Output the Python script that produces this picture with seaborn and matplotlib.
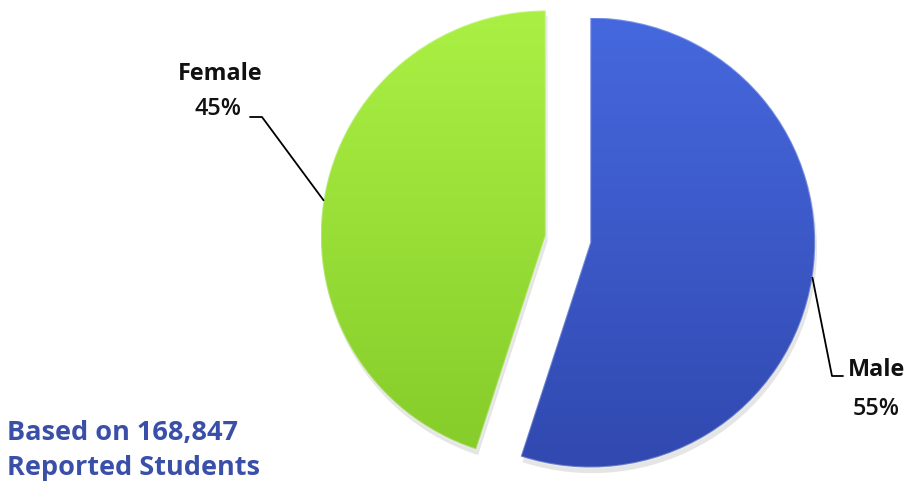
import numpy as np
import matplotlib
matplotlib.use("Agg")
import matplotlib.pyplot as plt
from matplotlib.colors import LinearSegmentedColormap
import seaborn as sns

# Data
categories = ["Male", "Female"]
shares = [55, 45]
pct_labels = ["55%", "45%"]
note_lines = ["Based on 168,847", "Reported Students"]

sns.set_theme(style="white")
plt.rcParams['font.family'] = ['Open Sans', 'DejaVu Sans']

W, H = 911, 489
fig = plt.figure(figsize=(W / 100, H / 100), dpi=100)
ax = fig.add_axes([0, 0, 1, 1])
R = 225.0
cx, cy = 568.0, 240.0
ax.set_aspect('equal')
ax.axis('off')

top_cols = ["#4668de", "#aaf044"]
bot_cols = ["#3149b0", "#86cc2a"]

wedges, _ = ax.pie(shares, startangle=90, counterclock=False,
                   explode=[0.1, 0.1], radius=1.0,
                   colors=bot_cols, wedgeprops=dict(linewidth=0))

# gradient fills clipped to each wedge, plus soft shadow
for w, tc, bc in zip(wedges, top_cols, bot_cols):
    c = np.array(w.center)
    r = w.r
    shadow = matplotlib.patches.Wedge((c[0] + 0.008, c[1] - 0.025), r, w.theta1, w.theta2,
                                      facecolor="#cccccc", edgecolor='none', alpha=0.5,
                                      zorder=0.5)
    ax.add_patch(shadow)
    cmap = LinearSegmentedColormap.from_list("g", [bc, tc])
    grad = np.linspace(0, 1, 256).reshape(-1, 1)
    im = ax.imshow(grad, cmap=cmap, origin='lower',
                   extent=[c[0] - r, c[0] + r, c[1] - r, c[1] + r],
                   aspect='auto', zorder=2)
    im.set_clip_path(w)
    w.set_edgecolor((1, 1, 1, 0.3))
    w.set_linewidth(1.5)
    w.set_zorder(3)
    w.set_facecolor('none')

ax.set_xlim(-cx / R, (W - cx) / R)
ax.set_ylim(-(H - cy) / R, cy / R)

def px(x, y):
    return ((x - cx) / R, (cy - y) / R)

def edge_mid(w):
    a = np.deg2rad((w.theta1 + w.theta2) / 2)
    return (w.center[0] + w.r * np.cos(a), w.center[1] + w.r * np.sin(a))

# Female leader
fm = edge_mid(wedges[1])
e1 = px(262, 118)
e0 = px(250, 118)
ax.plot([fm[0], e1[0], e0[0]], [fm[1], e1[1], e0[1]], color='black', lw=1.3, zorder=5)
# Male leader
mm = edge_mid(wedges[0])
m1 = px(832, 377)
m0 = px(843, 377)
ax.plot([mm[0], m1[0], m0[0]], [mm[1], m1[1], m0[1]], color='black', lw=1.3, zorder=5)

fs = 16.8
x, y = px(220, 74)
ax.text(x, y, categories[1], ha='center', va='center', fontsize=fs, fontweight='bold', color='#111111')
x, y = px(218, 109)
ax.text(x, y, pct_labels[1], ha='center', va='center', fontsize=fs, fontweight='semibold', color='#111111')
x, y = px(877, 370)
ax.text(x, y, categories[0], ha='center', va='center', fontsize=fs, fontweight='bold', color='#111111')
x, y = px(876, 409)
ax.text(x, y, pct_labels[0], ha='center', va='center', fontsize=fs, fontweight='semibold', color='#111111')

fs2 = 19.5
x, y = px(7, 433)
ax.text(x, y, note_lines[0], ha='left', va='center', fontsize=fs2, fontweight='bold', color='#3a4fa8')
x, y = px(7, 468)
ax.text(x, y, note_lines[1], ha='left', va='center', fontsize=fs2, fontweight='bold', color='#3a4fa8')

fig.savefig("out.png", dpi=100, facecolor='white')
